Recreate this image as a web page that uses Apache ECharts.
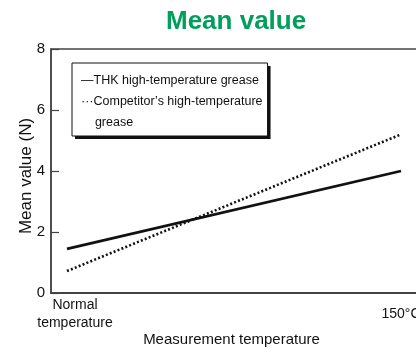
<!DOCTYPE html>
<html>
<head>
<meta charset="utf-8">
<script src="https://cdn.jsdelivr.net/npm/echarts@6/dist/echarts.min.js"></script>
<style>
  html, body { margin: 0; padding: 0; background: #fff; }
  #chart { width: 416px; height: 349px; }
</style>
</head>
<body>
<div id="chart"></div>
<script>
// Measurement conditions (x positions are the category indices)
const categories = ['Normal\ntemperature', '150°C'];
// Mean value (N) for each grease
const thkValues = [1.45, 4.0];
const competitorValues = [0.72, 5.2];
const seriesNames = ['THK high-temperature grease', 'Competitor\u2019s high-temperature grease'];
// Y-axis range and step
const yMin = 0, yMax = 8, yStep = 2;

const font = '"Liberation Sans", Arial, Helvetica, sans-serif';

// Extra room on either side of the two measurement points
const xMin = -0.0479, xMax = 1.0749;

function toPoints(values) {
  return values.map((v, i) => [i, v]);
}

function legendLabel(name) {
  if (name === seriesNames[0]) return '\u2014' + name;
  return '\u00b7\u00b7\u00b7Competitor\u2019s high-temperature\n    grease';
}

// Shared legend layout; drawn twice: a shadowed white card, then the framed text
const legendBase = {
  orient: 'vertical',
  left: 72,
  top: 63,
  padding: [7, 5, 3, 4],
  itemGap: 0,
  itemWidth: 0,
  itemHeight: 0,
  icon: 'rect',
  selectedMode: false,
  itemStyle: { opacity: 0 },
  lineStyle: { opacity: 0 },
  formatter: legendLabel,
  data: seriesNames
};

const chart = echarts.init(document.getElementById('chart'), null, { renderer: 'canvas' });

chart.setOption({
  animation: false,
  backgroundColor: '#fff',
  title: {
    text: 'Mean value',
    left: 166,
    top: 9,
    padding: 0,
    textStyle: {
      color: '#00a05c',
      fontFamily: font,
      fontWeight: 'bold',
      fontSize: 26
    }
  },
  grid: {
    left: 51,
    right: -10,
    top: 49,
    bottom: 56,
    outerBoundsMode: 'none',
    containLabel: false,
    show: true,
    borderColor: '#444',
    borderWidth: 1.5,
    backgroundColor: 'transparent'
  },
  legend: [
    Object.assign({}, legendBase, {
      id: 'card',
      z: 5,
      backgroundColor: '#fff',
      borderWidth: 0,
      shadowColor: '#111',
      shadowBlur: 0,
      shadowOffsetX: 3,
      shadowOffsetY: 3,
      textStyle: { fontFamily: font, fontSize: 12.5, lineHeight: 21, color: 'rgba(0,0,0,0)' }
    }),
    Object.assign({}, legendBase, {
      id: 'text',
      z: 6,
      backgroundColor: 'transparent',
      borderColor: '#111',
      borderWidth: 1,
      textStyle: { fontFamily: font, fontSize: 12.5, lineHeight: 21, color: '#111' }
    })
  ],
  xAxis: {
    type: 'value',
    min: xMin,
    max: xMax,
    name: 'Measurement temperature',
    nameLocation: 'middle',
    nameGap: 39,
    nameMoveOverlap: false,
    nameTextStyle: {
      fontFamily: font,
      fontSize: 15,
      color: '#111',
      padding: [0, 14, 0, 0]
    },
    axisLine: { show: true, onZero: false, lineStyle: { color: '#444', width: 1.8 } },
    axisTick: { show: false },
    splitLine: { show: false },
    axisLabel: {
      customValues: categories.map((c, i) => i),
      margin: 21,
      verticalAlign: 'middle',
      color: '#111',
      fontFamily: font,
      fontSize: 14,
      lineHeight: 18,
      formatter: function (v) {
        const label = categories[Math.round(v)];
        if (label.indexOf('\n') >= 0) {
          return label.split('\n').map(s => '{a|' + s + '}').join('\n');
        }
        return '{b|' + label + '}';
      },
      rich: {
        a: { fontFamily: font, fontSize: 14, lineHeight: 18, color: '#111', padding: [0, 0, 0, 16] },
        b: { fontFamily: font, fontSize: 14, lineHeight: 18, color: '#111' }
      }
    }
  },
  yAxis: {
    type: 'value',
    min: yMin,
    max: yMax,
    interval: yStep,
    name: 'Mean value (N)',
    nameLocation: 'middle',
    nameGap: 16,
    nameMoveOverlap: false,
    nameTextStyle: {
      fontFamily: font,
      fontSize: 17,
      color: '#111',
      padding: [0, 10, 0, 0]
    },
    axisLine: { show: true, onZero: false, lineStyle: { color: '#444', width: 1.5 } },
    axisTick: { show: true, inside: true, length: 8, lineStyle: { color: '#444', width: 1.2 } },
    splitLine: { show: false },
    axisLabel: {
      margin: 6,
      color: '#111',
      fontFamily: font,
      fontSize: 15
    }
  },
  series: [
    {
      name: seriesNames[0],
      type: 'line',
      data: toPoints(thkValues),
      symbol: 'none',
      lineStyle: { color: '#111', width: 2.8, type: 'solid' },
      z: 3
    },
    {
      name: seriesNames[1],
      type: 'line',
      data: toPoints(competitorValues),
      symbol: 'none',
      lineStyle: { color: '#111', width: 2.6, type: [2, 2.2] },
      z: 3
    }
  ]
});
</script>
</body>
</html>
